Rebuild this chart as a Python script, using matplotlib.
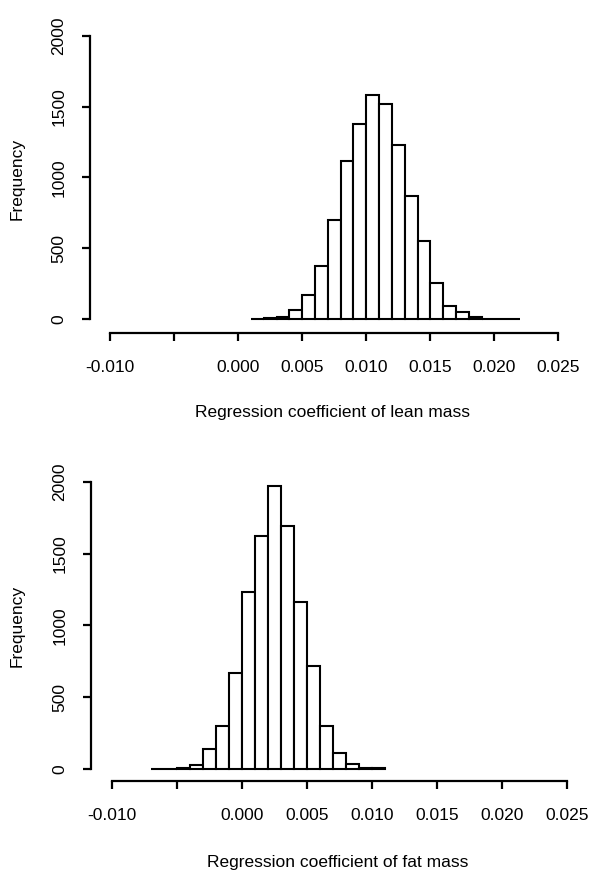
import matplotlib
matplotlib.use('Agg')
import matplotlib.pyplot as plt

plt.rcParams['font.family'] = ['Liberation Sans', 'DejaVu Sans']

# histogram bins (left edges) and counts
lean_bins = [0.001, 0.002, 0.003, 0.004, 0.005, 0.006, 0.007, 0.008, 0.009, 0.010, 0.011,
             0.012, 0.013, 0.014, 0.015, 0.016, 0.017, 0.018, 0.019, 0.020, 0.021]
lean_counts = [0, 8, 12, 61, 169, 377, 697, 1118, 1380, 1582, 1515,
               1228, 866, 548, 255, 93, 50, 14, 2, 0, 0]

fat_bins = [-0.007, -0.006, -0.005, -0.004, -0.003, -0.002, -0.001, 0.000, 0.001,
            0.002, 0.003, 0.004, 0.005, 0.006, 0.007, 0.008, 0.009, 0.010]
fat_counts = [0, 0, 6, 28, 142, 302, 668, 1232, 1624,
              1970, 1689, 1162, 719, 302, 111, 35, 10, 5]

bin_width = 0.001
x_ticks = [-0.010, -0.005, 0.000, 0.005, 0.010, 0.015, 0.020, 0.025]
x_tick_labels = ['-0.010', '', '0.000', '0.005', '0.010', '0.015', '0.020', '0.025']
y_ticks = [0, 500, 1000, 1500, 2000]

W, H = 600, 885
fig = plt.figure(figsize=(W / 100, H / 100), dpi=100)


def px_axes(left, top, width, bottom):
    # axes box given in pixel coordinates of the figure
    return fig.add_axes([left / W, 1 - bottom / H, width / W, (bottom - top) / H])


def draw_hist(ax, bins, counts, ybottom, xlabel, xlabel_y):
    ax.bar(bins, counts, width=bin_width, align='edge', facecolor='white',
           edgecolor='black', linewidth=1.5)
    ax.set_xlim(-0.0116, 0.0264)
    ax.set_ylim(ybottom, 2080)
    for s in ['top', 'right']:
        ax.spines[s].set_visible(False)
    ax.spines['left'].set_bounds(0, 2000)
    ax.spines['bottom'].set_bounds(-0.010, 0.025)
    for s in ['left', 'bottom']:
        ax.spines[s].set_linewidth(1.6)
    ax.set_xticks(x_ticks)
    ax.set_xticklabels(x_tick_labels)
    ax.set_yticks(y_ticks)
    ax.tick_params(axis='both', direction='out', length=5.8, width=1.6, labelsize=12.5)
    ax.tick_params(axis='x', pad=14)
    ax.tick_params(axis='y', pad=11)
    for lab in ax.get_yticklabels():
        lab.set_rotation(90)
        lab.set_va('center')
    # axis titles
    cx = (ax.get_position().x0 + ax.get_position().x1) / 2
    cy = (ax.get_position().y0 + ax.get_position().y1) / 2
    fig.text(cx, 1 - xlabel_y / H, xlabel, ha='center', va='center', fontsize=12.5)
    fig.text(17 / W, cy, 'Frequency', ha='center', va='center', rotation=90, fontsize=12.5)


ax1 = px_axes(89.5, 24.4, 486.9, 332.7)
draw_hist(ax1, lean_bins, lean_counts, -97, 'Regression coefficient of lean mass', 413)

ax2 = px_axes(90.9, 470.2, 494.0, 780.7)
draw_hist(ax2, fat_bins, fat_counts, -81, 'Regression coefficient of fat mass', 863)

fig.savefig('out.png', dpi=100, facecolor='white')
